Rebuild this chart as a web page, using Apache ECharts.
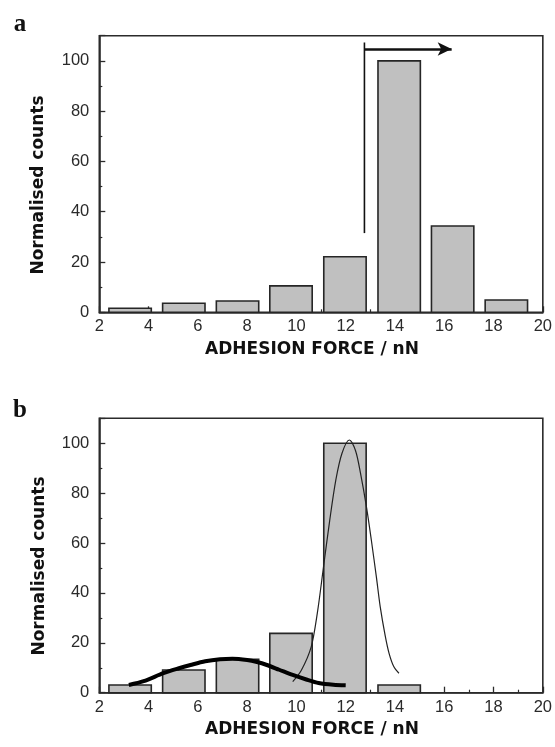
<!DOCTYPE html>
<html><head><meta charset="utf-8">
<script src="https://cdn.jsdelivr.net/npm/echarts@6/dist/echarts.min.js"></script>
<style>html,body{margin:0;padding:0;background:#fff}#c{width:555px;height:747px}</style>
</head><body><div id="c"></div>
<script>
// ---- data ----
const binCentersA = [3.25, 5.43, 7.61, 9.78, 11.97, 14.17, 16.34, 18.52];
const countsA     = [1.6, 3.6, 4.5, 10.5, 22.1, 100, 34.3, 4.9];
const binCentersB = [3.25, 5.43, 7.61, 9.78, 11.97, 14.17];
const countsB     = [3.1, 9.1, 13.4, 23.8, 100, 3.1];
const fitWideB = [[3.2,3.1],[3.8,4.6],[4.6,7.8],[5.2,9.7],[5.7,11.1],[6.3,12.6],[6.9,13.4],[7.4,13.6],[8.0,13.1],[8.4,12.3],[8.8,11.1],[9.3,9.2],[9.85,7.1],[10.4,5.3],[10.9,3.9],[11.5,3.2],[12.0,3.0]];
const fitNarrowB = [[9.85,4.4],[10.2,9],[10.6,18.4],[10.85,32],[11.1,50.5],[11.35,69],[11.6,85.3],[11.85,96],[12.15,101.3],[12.4,97],[12.6,88],[12.85,74],[13.04,61.2],[13.25,46],[13.4,34.5],[13.6,23],[13.76,15.8],[13.95,10.5],[14.16,7.8]];
const arrowStemA = [[12.76, 31.5], [12.76, 107.3]];
const arrowShaftA = [[12.76, 104.7], [16.3, 104.7]];
const xTickLabels = [2, 4, 6, 8, 10, 12, 14, 16, 18, 20];
const yTickLabels = [0, 20, 40, 60, 80, 100];
const yAxisTop = 110;
const panelLabels = ['a', 'b'];
const xTitle = 'ADHESION FORCE / nN';
const yTitle = 'Normalised counts';

// ---- styling ----
const BAR_HALF = 0.86;
const AX = '#2b2b2b';
const chart = echarts.init(document.getElementById('c'), null, {renderer: 'canvas'});

function renderBar(params, api) {
  const c = api.value(0), v = api.value(1);
  const p1 = api.coord([c - BAR_HALF, v]);
  const p2 = api.coord([c + BAR_HALF, 0]);
  return {type: 'rect',
    shape: {x: p1[0], y: p1[1], width: p2[0] - p1[0], height: p2[1] - p1[1]},
    style: {fill: '#c0c0c0', stroke: '#262626', lineWidth: 1.6}};
}
function xAx(gi) {
  return {type: 'value', gridIndex: gi, min: xTickLabels[0], max: xTickLabels[xTickLabels.length - 1],
    interval: xTickLabels[1] - xTickLabels[0],
    axisLine: {onZero: false, lineStyle: {color: AX, width: 1.6}},
    axisTick: {inside: true, length: 6, lineStyle: {color: AX, width: 1.3}},
    minorTick: {show: true, splitNumber: 2, length: 3, lineStyle: {color: AX, width: 1.2}},
    splitLine: {show: false},
    axisLabel: {fontFamily: 'Liberation Sans', fontSize: 16.5, color: '#2a2a2a', margin: 6}};
}
function yAx(gi) {
  return {type: 'value', gridIndex: gi, min: yTickLabels[0], max: yAxisTop,
    interval: yTickLabels[1] - yTickLabels[0],
    axisLine: {show: true, onZero: false, lineStyle: {color: AX, width: 1.6}},
    axisTick: {show: true, inside: true, length: 6, lineStyle: {color: AX, width: 1.3}},
    minorTick: {show: true, splitNumber: 2, length: 3, lineStyle: {color: AX, width: 1.2}},
    splitLine: {show: false},
    axisLabel: {fontFamily: 'Liberation Sans', fontSize: 16.5, color: '#2a2a2a', margin: 10,
      formatter: v => (yTickLabels.indexOf(v) >= 0 ? String(v) : '')}};
}
const grids = [
  {left: 99.3, top: 35.7, width: 444.7, height: 276.6, show: true, borderColor: AX, borderWidth: 1.6, backgroundColor: 'transparent'},
  {left: 99.3, top: 418.3, width: 444.7, height: 274.4, show: true, borderColor: AX, borderWidth: 1.6, backgroundColor: 'transparent'}
];
function txt(text, x, y, font, opts) {
  return Object.assign({type: 'text', x: x, y: y, silent: true,
    style: {text: text, font: font, fill: '#111', align: 'center', verticalAlign: 'middle',
            textAlign: 'center', textVerticalAlign: 'middle'}}, opts || {});
}
const option = {
  animation: false,
  backgroundColor: '#fff',
  grid: grids,
  xAxis: [xAx(0), xAx(1)],
  yAxis: [yAx(0), yAx(1)],
  series: [
    {type: 'custom', xAxisIndex: 0, yAxisIndex: 0, renderItem: renderBar,
      encode: {x: 0, y: 1}, data: binCentersA.map((c, i) => [c, countsA[i]])},
    {type: 'line', xAxisIndex: 0, yAxisIndex: 0, data: arrowStemA, symbol: 'none',
      lineStyle: {color: '#111', width: 1.6},
      markLine: {silent: true, symbol: ['none', 'arrow'], symbolSize: [10, 14],
        label: {show: false}, lineStyle: {color: '#111', width: 2.6, type: 'solid'},
        data: [[{coord: arrowShaftA[0]}, {coord: arrowShaftA[1]}]]}},
    {type: 'custom', xAxisIndex: 1, yAxisIndex: 1, renderItem: renderBar,
      encode: {x: 0, y: 1}, data: binCentersB.map((c, i) => [c, countsB[i]])},
    {type: 'line', xAxisIndex: 1, yAxisIndex: 1, data: fitNarrowB, symbol: 'none', smooth: 0.3,
      lineStyle: {color: '#222', width: 1.2}},
    {type: 'line', xAxisIndex: 1, yAxisIndex: 1, data: fitWideB, symbol: 'none', smooth: 0.3,
      lineStyle: {color: '#000', width: 4}}
  ],
  graphic: [
    txt(panelLabels[0], 20, 25, 'bold 25px "Liberation Serif"'),
    txt(panelLabels[1], 20, 411, 'bold 25px "Liberation Serif"'),
    txt(yTitle, 39, 185, 'bold 17px "DejaVu Sans"', {rotation: Math.PI / 2}),
    txt(yTitle, 40, 566, 'bold 17px "DejaVu Sans"', {rotation: Math.PI / 2}),
    txt(xTitle, 312, 350, 'bold 17px "DejaVu Sans"'),
    txt(xTitle, 312, 730, 'bold 17px "DejaVu Sans"')
  ]
};
chart.setOption(option);
</script></body></html>
